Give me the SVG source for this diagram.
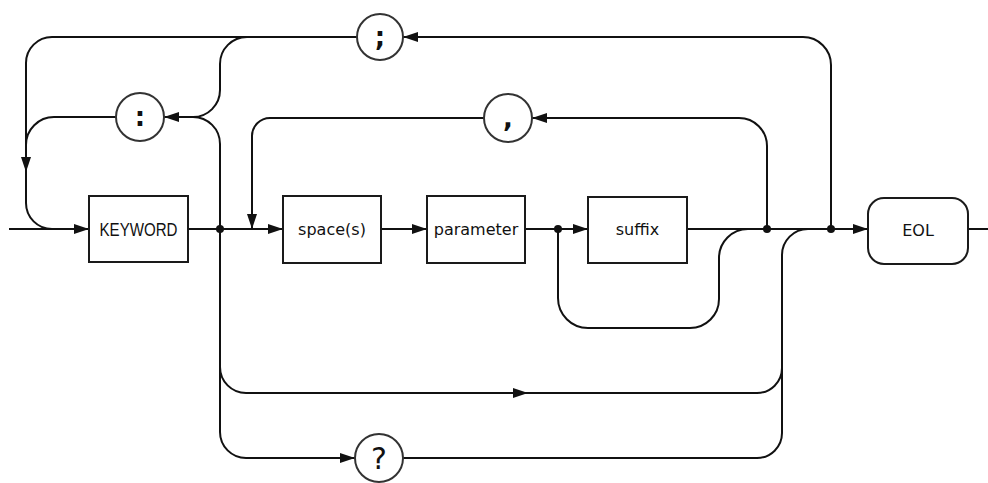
<svg xmlns="http://www.w3.org/2000/svg" width="988" height="483" viewBox="0 0 988 483">
<style>
.bg{fill:#fff}
.box{fill:#fff;stroke:#1a1a1a;stroke-width:2}
.box2{fill:none;stroke:#888;stroke-width:1}
.circ{fill:#fff;stroke:#333;stroke-width:2}
.ln{fill:none;stroke:#111;stroke-width:2}
.lbl{font-family:"DejaVu Sans",sans-serif;font-size:16px;fill:#111;text-anchor:middle}
.kw{font-family:"Liberation Sans",sans-serif;font-size:18px;fill:#111;text-anchor:middle}
.sym{font-family:"DejaVu Sans",sans-serif;font-weight:bold;font-size:26px;fill:#111;text-anchor:middle}
.q{font-family:"DejaVu Sans",sans-serif;font-size:30px;fill:#111;text-anchor:middle}
.dot{fill:#111}
</style>
<defs>
<marker id="a" viewBox="0 0 15 10" refX="15" refY="5" markerWidth="15" markerHeight="10" markerUnits="userSpaceOnUse" orient="auto">
<path d="M0,0 L15,5 L0,10 z" fill="#111"/>
</marker>
</defs>
<rect class="bg" x="0" y="0" width="988" height="483"/>
<g id="connectors">
<path class="ln" d="M9,229 H89" marker-end="url(#a)"/>
<path class="ln" d="M188,229 H283" marker-end="url(#a)"/>
<path class="ln" d="M381,229 H427" marker-end="url(#a)"/>
<path class="ln" d="M525,229 H588" marker-end="url(#a)"/>
<path class="ln" d="M687,229 H868" marker-end="url(#a)"/>
<path class="ln" d="M968,229 H988"/>
<path class="ln" d="M357,37 H52 A26,26 0 0 0 26,63 V172" marker-end="url(#a)"/>
<path class="ln" d="M26,170 V203 A26,26 0 0 0 52,229 H60"/>
<path class="ln" d="M116,117 H54 A28,28 0 0 0 26,145"/>
<path class="ln" d="M220,229 V144 A27,27 0 0 0 193,117 H164" marker-end="url(#a)"/>
<path class="ln" d="M247,37 A27,27 0 0 0 220,64 V90 A27,27 0 0 1 193,117"/>
<path class="ln" d="M831,229 V65 A28,28 0 0 0 803,37 H403" marker-end="url(#a)"/>
<path class="ln" d="M767,229 V146 A28,28 0 0 0 739,118 H532" marker-end="url(#a)"/>
<path class="ln" d="M484,118 H270 A18,18 0 0 0 252,136 V229" marker-end="url(#a)"/>
<path class="ln" d="M558,229 V298 A30,30 0 0 0 588,328 H690 A29,29 0 0 0 719,299 V258 A29,29 0 0 1 748,229"/>
<path class="ln" d="M220,229 V367 A26,26 0 0 0 246,393 H528" marker-end="url(#a)"/>
<path class="ln" d="M526,393 H757 A25,25 0 0 0 782,368 V255 A26,26 0 0 1 808,229"/>
<path class="ln" d="M220,367 V432 A26,26 0 0 0 246,458 H355" marker-end="url(#a)"/>
<path class="ln" d="M403,458 H757 A25,25 0 0 0 782,433 V368"/>
<circle class="dot" cx="220" cy="229" r="4"/>
<circle class="dot" cx="558" cy="229" r="4"/>
<circle class="dot" cx="767" cy="229" r="4"/>
<circle class="dot" cx="831" cy="229" r="4"/>
</g>
<g id="keyword">
<rect class="box" x="89" y="196" width="99" height="66"/>
<text class="kw" x="138.5" y="236" textLength="78" lengthAdjust="spacingAndGlyphs">KEYWORD</text>
</g>
<g id="spaces">
<rect class="box" x="283" y="196" width="98" height="67"/>
<text class="lbl" x="332" y="235">space(s)</text>
</g>
<g id="parameter">
<rect class="box" x="427" y="196" width="98" height="67"/>
<text class="lbl" x="476" y="235">parameter</text>
</g>
<g id="suffix">
<rect class="box" x="588" y="197" width="99" height="66"/>
<text class="lbl" x="637.5" y="235">suffix</text>
</g>
<g id="eol">
<rect class="box" x="868" y="198" width="100" height="66" rx="16" ry="16"/>
<text class="lbl" x="918" y="236">EOL</text>
</g>
<g id="colon">
<circle class="circ" cx="140" cy="117" r="24"/>
<text class="sym" x="140" y="126">:</text>
</g>
<g id="semicolon">
<circle class="circ" cx="380" cy="37" r="23"/>
<text class="sym" x="380" y="46">;</text>
</g>
<g id="comma">
<circle class="circ" cx="508" cy="118" r="24"/>
<text class="sym" x="508" y="127">,</text>
</g>
<g id="query">
<circle class="circ" cx="379" cy="458" r="24"/>
<text class="q" x="379" y="469">?</text>
</g>
</svg>
